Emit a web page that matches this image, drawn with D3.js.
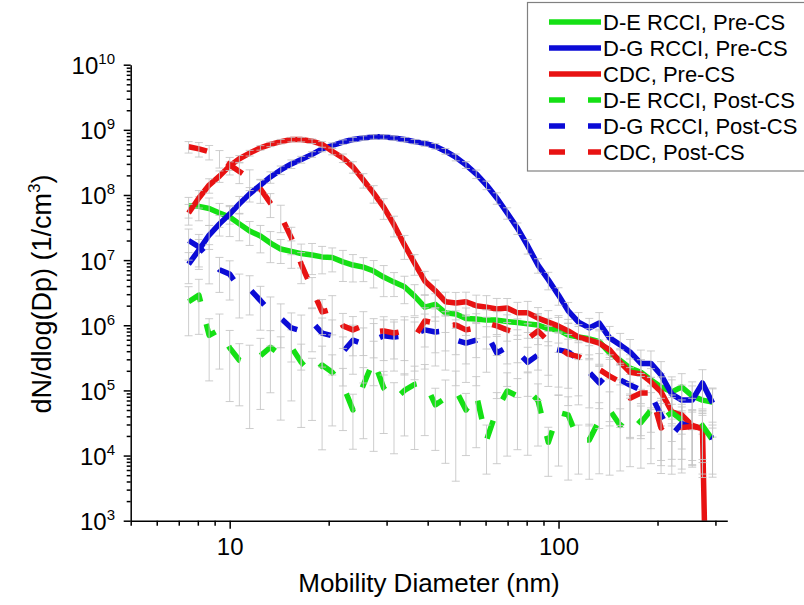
<!DOCTYPE html>
<html>
<head>
<meta charset="utf-8">
<script src="https://cdn.jsdelivr.net/npm/d3@7"></script>
<style>
  body { margin: 0; background: #fff; }
  svg text { font-family: "Liberation Sans", Arial, sans-serif; fill: #000; }
</style>
</head>
<body>
<svg id="chart" width="804" height="605"></svg>
<script>
// mobility diameter bins (nm)
const diameter = [7.50, 8.06, 8.66, 9.31, 10.0, 10.7, 11.5, 12.4, 13.3, 14.3, 15.4, 16.5, 17.8, 19.1, 20.5, 22.1, 23.7, 25.5, 27.4, 29.4,
  31.6, 34.0, 36.5, 39.2, 42.2, 45.3, 48.7, 52.3, 56.2, 60.4, 64.9, 69.8, 75.0, 80.6, 86.6, 93.1, 100, 107, 115, 124,
  133, 143, 154, 165, 178, 191, 205, 221, 237, 255, 274, 294];

// dN/dlog(Dp), 1/cm3
const deRcciPre = [6.8e7, 6.7e7, 6.2e7, 5.3e7, 4.6e7, 3.6e7, 2.8e7, 2.35e7, 1.83e7, 1.48e7, 1.36e7, 1.26e7, 1.2e7, 1.12e7, 1.1e7, 9.4e6, 8.4e6, 7.8e6, 6.8e6, 5.5e6,
  4.6e6, 3.9e6, 2.8e6, 1.9e6, 2.1e6, 1.55e6, 1.49e6, 1.27e6, 1.25e6, 1.2e6, 1.2e6, 1.14e6, 1.1e6, 1.05e6, 1.01e6, 8.8e5, 8.5e5, 7.1e5, 6.6e5, 6.2e5,
  5.6e5, 3.75e5, 2.9e5, 2.2e5, 1.9e5, 1.45e5, 1.13e5, 9.5e4, 1.13e5, 8.2e4, 7.1e4, 6.6e4];
const dgRcciPre = [8.7e6, 1.43e7, 2.43e7, 3.6e7, 5.1e7, 7.3e7, 1.04e8, 1.42e8, 1.89e8, 2.42e8, 3.0e8, 3.5e8, 4.2e8, 5.1e8, 5.75e8, 6.5e8, 7.1e8, 7.5e8, 7.8e8, 7.8e8,
  7.5e8, 7.1e8, 6.6e8, 6.2e8, 5.6e8, 4.7e8, 3.8e8, 2.9e8, 2.1e8, 1.42e8, 9.0e7, 5.3e7, 3.1e7, 1.65e7, 8.4e6, 5.0e6, 2.9e6, 1.66e6, 1.12e6, 9.1e5,
  1.08e6, 6.4e5, 5.0e5, 3.9e5, 2.6e5, 2.6e5, 1.73e5, 8.8e4, 7.1e4, 7.1e4, 1.3e5, 6.4e4];
const cdcPre = [5.3e7, 9.0e7, 1.42e8, 1.95e8, 2.8e8, 3.6e8, 4.4e8, 5.3e8, 6.0e8, 6.6e8, 7.1e8, 7.1e8, 6.7e8, 6.0e8, 4.7e8, 3.7e8, 2.7e8, 1.7e8, 1.07e8, 6.5e7,
  3.5e7, 1.71e7, 9.0e6, 4.8e6, 3.4e6, 2.3e6, 2.2e6, 2.3e6, 2.0e6, 1.9e6, 1.78e6, 1.84e6, 1.55e6, 1.55e6, 1.29e6, 1.12e6, 9.7e5, 8.2e5, 6.6e5, 5.9e5,
  5.3e5, 4.2e5, 2.7e5, 1.9e5, 1.79e5, 1.35e5, 9.5e4, 4.7e4, 4.2e4, 2.9e4, 2.6e4, 0];
const deRcciPost = [2.3e6, 2.9e6, 7.0e5, 8.5e5, 4.5e5, 2.9e5, 2.6e5, 3.4e5, 4.6e5, 3.5e5, 4.6e5, 2.7e5, 1.73e5, 2.45e5, 1.9e5, 1.21e5, 5.0e4, 1.21e5, 2.9e5, 1.09e5,
  7.1e4, 1.0e5, 1.24e5, 1.35e5, 6.0e4, 7.6e4, 1.01e5, 5.0e4, 8.8e4, 1.73e4, 5.0e4, 9.8e4, 8.2e4, 1.01e5, 7.0e4, 1.6e4, 4.6e4, 4.2e4, 1.73e4, 1.73e4,
  3.5e4, 5.0e4, 2.9e4, 4.5e4, 3.2e4, 5.0e4, 3.5e4, 4.6e4, 3.5e4, 4.2e4, 2.9e4, 1.73e4];
const dgRcciPost = [2.0e7, 1.6e7, 1.08e7, 7.1e6, 6.1e6, 3.7e6, 3.6e6, 2.4e6, 1.6e6, 1.29e6, 9.1e5, 8.2e5, 1.12e6, 7.6e5, 6.9e5, 3.9e5, 5.9e5, 5.2e5, 5.9e5, 6.9e5,
  6.6e5, 6.9e5, 7.3e5, 8.5e5, 7.9e5, 8.2e5, 5.9e5, 5.3e5, 5.9e5, 7.6e5, 3.75e5, 4.6e5, 3.9e5, 2.7e5, 3.5e5, 4.6e5, 4.2e5, 3.9e5, 3.0e5, 1.9e5,
  1.3e5, 1.9e5, 1.45e5, 1.21e5, 1.01e5, 8.5e4, 4.2e4, 2.07e4, 3.1e4, 2.65e4, 2.3e4, 1.86e4];
const cdcPost = [5.5e8, 5.1e8, 4.6e8, 3.7e8, 2.9e8, 2.3e8, 1.8e8, 1.24e8, 7.5e7, 4.8e7, 2.2e7, 8.7e6, 3.6e6, 1.6e6, 1.78e6, 9.8e5, 8.5e5, 9.8e5, 7.9e5, 8.2e5,
  7.6e5, 8.2e5, 6.6e5, 1.16e6, 1.08e6, 1.01e6, 1.01e6, 8.5e5, 9.1e5, 1.08e6, 9.8e5, 8.5e5, 7.6e5, 6.2e5, 8.2e5, 5.7e5, 4.5e5, 3.6e5, 3.3e5, 2.7e5,
  2.1e5, 1.66e5, 1.35e5, 7.6e4, 9.1e4, 9.1e4, 2.65e4, 3.5e4, 2.7e4, 2.8e4, 2.6e4, null];

// relative standard deviation of each point (error bars)
const deRcciPreErr = [0.35, 0.4, 0.45, 0.4, 0.5, 0.45, 0.4, 0.45, 0.5, 0.4, 0.45, 0.4, 0.5, 0.45, 0.4, 0.5, 0.45, 0.4, 0.45, 0.5,
  0.4, 0.45, 0.5, 0.55, 0.45, 0.5, 0.4, 0.45, 0.5, 0.45, 0.4, 0.5, 0.45, 0.4, 0.5, 0.45, 0.55, 0.5, 0.45, 0.5,
  0.55, 0.6, 0.5, 0.6, 0.55, 0.65, 0.6, 0.7, 0.6, 0.65, 0.7, 0.6];
const dgRcciPreErr = [0.5, 0.45, 0.4, 0.35, 0.3, 0.3, 0.25, 0.2, 0.2, 0.15, 0.15, 0.12, 0.1, 0.1, 0.1, 0.08, 0.08, 0.08, 0.08, 0.08,
  0.08, 0.08, 0.08, 0.1, 0.1, 0.1, 0.12, 0.12, 0.15, 0.15, 0.2, 0.2, 0.2, 0.25, 0.25, 0.3, 0.3, 0.35, 0.4, 0.4,
  0.45, 0.5, 0.5, 0.55, 0.6, 0.55, 0.6, 0.65, 0.7, 0.65, 0.6, 0.7];
const cdcPreErr = [0.35, 0.3, 0.25, 0.2, 0.15, 0.12, 0.1, 0.08, 0.08, 0.08, 0.08, 0.08, 0.08, 0.1, 0.12, 0.15, 0.2, 0.25, 0.3, 0.35,
  0.35, 0.4, 0.35, 0.4, 0.45, 0.4, 0.45, 0.4, 0.45, 0.5, 0.45, 0.4, 0.45, 0.5, 0.45, 0.5, 0.45, 0.5, 0.55, 0.5,
  0.55, 0.6, 0.55, 0.6, 0.65, 0.6, 0.7, 0.65, 0.7, 0.75, 0.7, 0];
const deRcciPostErr = [0.7, 0.75, 0.8, 0.75, 0.85, 0.8, 0.9, 0.85, 0.8, 0.9, 0.85, 0.9, 0.8, 0.95, 0.85, 0.8, 0.75, 0.85, 0.96, 0.8,
  0.85, 0.8, 0.9, 0.85, 0.8, 0.9, 0.96, 0.8, 0.85, 0.7, 0.85, 0.9, 0.85, 0.9, 0.8, 0.7, 0.85, 0.9, 0.7, 0.75,
  0.85, 0.9, 0.8, 0.85, 0.8, 0.85, 0.8, 0.85, 0.75, 0.8, 0.7, 0.7];
const dgRcciPostErr = [0.5, 0.55, 0.6, 0.55, 0.6, 0.65, 0.6, 0.65, 0.7, 0.65, 0.7, 0.75, 0.65, 0.7, 0.75, 0.7, 0.7, 0.75, 0.8, 0.75,
  0.7, 0.75, 0.8, 0.75, 0.7, 0.75, 0.8, 0.75, 0.8, 0.75, 0.8, 0.75, 0.8, 0.7, 0.8, 0.75, 0.8, 0.85, 0.8, 0.85,
  0.8, 0.85, 0.8, 0.85, 0.8, 0.85, 0.8, 0.75, 0.8, 0.75, 0.8, 0.75];
const cdcPostErr = [0.2, 0.25, 0.25, 0.3, 0.3, 0.35, 0.35, 0.4, 0.4, 0.45, 0.45, 0.5, 0.5, 0.55, 0.6, 0.55, 0.6, 0.65, 0.6, 0.65,
  0.6, 0.65, 0.7, 0.6, 0.65, 0.6, 0.65, 0.7, 0.65, 0.6, 0.65, 0.7, 0.65, 0.7, 0.75, 0.7, 0.75, 0.7, 0.75, 0.8,
  0.75, 0.8, 0.8, 0.75, 0.8, 0.75, 0.8, 0.75, 0.8, 0.75, 0.8, 0];

const seriesNames = ["D-E RCCI, Pre-CS", "D-G RCCI, Pre-CS", "CDC, Pre-CS", "D-E RCCI, Post-CS", "D-G RCCI, Post-CS", "CDC, Post-CS"];
const xTickLabels = [10, 100];
const yTickExponents = [3, 4, 5, 6, 7, 8, 9, 10];

const colors = ["#14e014", "#0b0bd6", "#e81212", "#14e014", "#0b0bd6", "#e81212"];
const series = [
  { name: seriesNames[0], values: deRcciPre, err: deRcciPreErr, color: colors[0], dashed: false },
  { name: seriesNames[1], values: dgRcciPre, err: dgRcciPreErr, color: colors[1], dashed: false },
  { name: seriesNames[2], values: cdcPre, err: cdcPreErr, color: colors[2], dashed: false },
  { name: seriesNames[3], values: deRcciPost, err: deRcciPostErr, color: colors[3], dashed: true },
  { name: seriesNames[4], values: dgRcciPost, err: dgRcciPostErr, color: colors[4], dashed: true },
  { name: seriesNames[5], values: cdcPost, err: cdcPostErr, color: colors[5], dashed: true }
];

const svg = d3.select("#chart");
const plotLeft = 130.7, plotRight = 727.3, plotTop = 64.7, plotBottom = 520.7;

const x = d3.scaleLog().domain([5, 326]).range([plotLeft, plotRight]);
const y = d3.scaleLog().domain([1e3, 1e10]).range([plotBottom, plotTop]);

svg.append("defs").append("clipPath").attr("id", "plot")
  .append("rect").attr("x", plotLeft).attr("y", plotTop)
  .attr("width", plotRight - plotLeft).attr("height", plotBottom - plotTop);

const plot = svg.append("g").attr("clip-path", "url(#plot)");

const line = d3.line()
  .defined(d => d.v != null)
  .x(d => x(d.d))
  .y(d => y(Math.max(d.v, 1e-3)));

series.forEach(s => {
  const pts = diameter.map((d, i) => ({ d: d, v: s.values[i], e: s.err[i] }));

  plot.append("path")
    .datum(pts)
    .attr("fill", "none")
    .attr("stroke", s.color)
    .attr("stroke-width", 5.5)
    .attr("stroke-linejoin", "round")
    .attr("stroke-dasharray", s.dashed ? "19,23" : null)
    .attr("d", line);

  // error bars
  const bars = plot.append("g")
    .attr("stroke", "#c4c4c4")
    .attr("stroke-width", 1)
    .attr("stroke-opacity", 0.85)
    .selectAll("g")
    .data(pts.filter(p => p.v != null && p.v > 0 && p.e > 0))
    .enter().append("g");
  bars.append("line")
    .attr("x1", p => x(p.d)).attr("x2", p => x(p.d))
    .attr("y1", p => y(p.v * (1 + p.e))).attr("y2", p => y(p.v * (1 - p.e)));
  bars.append("line")
    .attr("x1", p => x(p.d) - 4).attr("x2", p => x(p.d) + 4)
    .attr("y1", p => y(p.v * (1 + p.e))).attr("y2", p => y(p.v * (1 + p.e)));
  bars.append("line")
    .attr("x1", p => x(p.d) - 4).attr("x2", p => x(p.d) + 4)
    .attr("y1", p => y(p.v * (1 - p.e))).attr("y2", p => y(p.v * (1 - p.e)));
});

// x axis
const xMinor = x.ticks().filter(t => xTickLabels.indexOf(t) < 0);
const gx = svg.append("g").attr("transform", "translate(0," + plotBottom + ")");
gx.call(d3.axisBottom(x).tickValues(xTickLabels).tickSize(8).tickSizeOuter(0).tickFormat(d3.format("d")));
gx.append("g").call(d3.axisBottom(x).tickValues(xMinor).tickSize(5).tickSizeOuter(0).tickFormat(""))
  .select(".domain").remove();
gx.selectAll("path, line").attr("stroke", "#000").attr("stroke-width", 1.5);
gx.selectAll("text").attr("dy", null).attr("y", 34).style("font-size", "24px");

// y axis
const yMajor = yTickExponents.map(e => Math.pow(10, e));
const yMinor = y.ticks().filter(t => yMajor.every(m => Math.abs(m - t) / m > 1e-6));
const gy = svg.append("g").attr("transform", "translate(" + plotLeft + ",0)");
gy.call(d3.axisLeft(y).tickValues(yMajor).tickSize(7).tickSizeOuter(0).tickFormat(""));
gy.append("g").call(d3.axisLeft(y).tickValues(yMinor).tickSize(4).tickSizeOuter(0).tickFormat(""))
  .select(".domain").remove();
gy.selectAll("path, line").attr("stroke", "#000").attr("stroke-width", 1.5);
gy.selectAll(".tick text").remove();

const yLabels = svg.append("g");
yTickExponents.forEach(e => {
  const t = yLabels.append("text")
    .attr("x", 115)
    .attr("y", y(Math.pow(10, e)) + 9.5)
    .attr("text-anchor", "end")
    .style("font-size", "24px")
    .text("10");
  t.append("tspan").attr("dy", -10).style("font-size", "15px").text(e);
});

// axis titles
svg.append("text")
  .attr("x", (plotLeft + plotRight) / 2)
  .attr("y", 592)
  .attr("text-anchor", "middle")
  .style("font-size", "26px")
  .text("Mobility Diameter (nm)");

const yTitle = svg.append("text")
  .attr("transform", "translate(51,294) rotate(-90)")
  .attr("text-anchor", "middle")
  .style("font-size", "27px");
yTitle.append("tspan").text("dN/dlog(Dp) (1/cm");
yTitle.append("tspan").attr("dy", -11).style("font-size", "17px").text("3");
yTitle.append("tspan").attr("dy", 11).text(")");

// legend
const legend = svg.append("g");
legend.append("rect")
  .attr("x", 527.5).attr("y", 2.5).attr("width", 300).attr("height", 168.5)
  .attr("fill", "#fff").attr("stroke", "#808080").attr("stroke-width", 1.2);
series.forEach((s, i) => {
  const cy = 22 + i * 26;
  legend.append("line")
    .attr("x1", 549).attr("x2", 601).attr("y1", cy).attr("y2", cy)
    .attr("stroke", s.color).attr("stroke-width", 5.5)
    .attr("stroke-dasharray", s.dashed ? "16,23" : null);
  legend.append("text")
    .attr("x", 603).attr("y", cy + 8)
    .style("font-size", "22px")
    .text(s.name);
});
</script>
</body>
</html>
